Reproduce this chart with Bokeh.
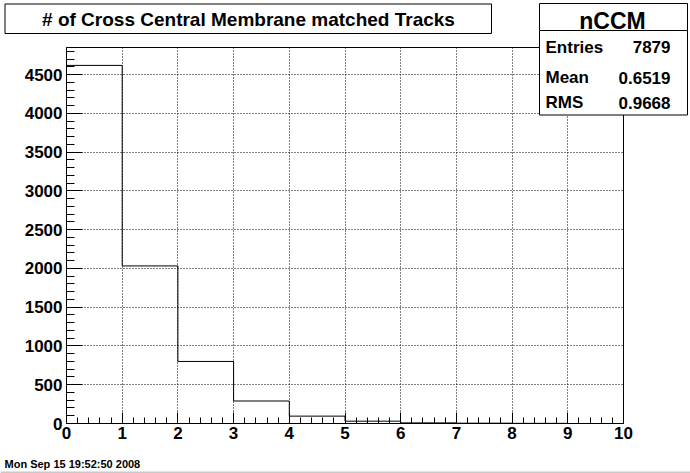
import numpy as np
from bokeh.plotting import figure
from bokeh.models import FixedTicker, Label, Range1d
from bokeh.embed import file_html
from bokeh.resources import INLINE

# ---- data ----
bin_edges = [0, 1, 2, 3, 4, 5, 6, 7, 8, 9, 10]
counts = [4618, 2032, 800, 290, 95, 30, 8, 4, 2, 0]
x_ticks = [0, 1, 2, 3, 4, 5, 6, 7, 8, 9, 10]
y_ticks = [0, 500, 1000, 1500, 2000, 2500, 3000, 3500, 4000, 4500]
title_text = "# of Cross Central Membrane matched Tracks"
stats_name = "nCCM"
stats_labels = ["Entries", "Mean", "RMS"]
stats_values = ["7879", "0.6519", "0.9668"]
timestamp = "Mon Sep 15 19:52:50 2008"

FONT = "Liberation Sans"
W, H = 690, 473

# ---------------- main histogram figure ----------------
ymax = 1.05 * max(counts)
p = figure(width=W, height=H,
           x_range=Range1d(bin_edges[0], bin_edges[-1]),
           y_range=Range1d(0, ymax),
           output_backend="svg", toolbar_location=None,
           min_border_left=66, min_border_right=67,
           min_border_top=47, min_border_bottom=50)
p.title.visible = False
p.background_fill_color = "white"
p.border_fill_color = "white"
p.outline_line_color = "black"
p.outline_line_width = 1

x_minor = list(np.round(np.arange(0, 10.001, 0.2), 3))
y_minor = list(range(0, 4801, 100))
p.xaxis.ticker = FixedTicker(ticks=x_ticks, minor_ticks=x_minor)
p.yaxis.ticker = FixedTicker(ticks=y_ticks, minor_ticks=y_minor)

for ax in (p.xaxis[0], p.yaxis[0]):
    ax.axis_line_color = "black"
    ax.axis_line_width = 1
    ax.major_tick_line_color = "black"
    ax.minor_tick_line_color = "black"
    ax.major_tick_out = 0
    ax.minor_tick_out = 0
    ax.major_label_text_font = FONT
    ax.major_label_text_font_style = "bold"
    ax.major_label_text_font_size = "17px"
    ax.major_label_text_color = "black"

p.xaxis.major_tick_in = 11
p.xaxis.minor_tick_in = 6
p.xaxis.major_label_standoff = 3
p.yaxis.major_tick_in = 16
p.yaxis.minor_tick_in = 8
p.yaxis.major_label_standoff = 4

for g in (p.xgrid[0], p.ygrid[0]):
    g.grid_line_color = "black"
    g.grid_line_dash = "1 2"
    g.grid_line_width = 1
    g.grid_line_alpha = 1

# histogram outline built from bin edges and counts
xs = np.repeat(bin_edges, 2)
ys = np.concatenate([[0], np.repeat(counts, 2), [0]])
p.line(xs, ys, line_color="black", line_width=1)

# ---------------- overlay (title box, stats box, timestamp) ----------------
ov = figure(width=W, height=H, x_range=Range1d(0, W), y_range=Range1d(H, 0),
            output_backend="svg", toolbar_location=None,
            x_axis_location=None, y_axis_location=None, min_border=0)
ov.title.visible = False
ov.grid.visible = False
ov.background_fill_alpha = 0
ov.border_fill_alpha = 0
ov.outline_line_color = None

# boxes: title box, stats header, stats body, bottom canvas edge
ov.quad(left=[4.5, 539, 539], right=[491, 687, 687],
        top=[3.5, 3, 30], bottom=[33, 30, 114.5],
        fill_color="white", line_color="black", line_width=1)
ov.quad(left=[0], right=[W], top=[471], bottom=[472.5],
        fill_color="#c8c8c8", line_color=None)

def lab(x, y, text, size, align):
    ov.add_layout(Label(x=x, y=y, text=text, text_font=FONT,
                        text_font_style="bold", text_font_size=size,
                        text_align=align, text_baseline="middle",
                        text_color="black"))

lab(248, 18.5, title_text, "19px", "center")
lab(612, 20, stats_name, "23px", "center")
row_y = [46.5, 77, 102]
for name, val, yy in zip(stats_labels, stats_values, row_y):
    lab(545, yy, name, "17px", "left")
    lab(670, yy, val, "17px", "right")
lab(4, 463, timestamp, "11px", "left")

box_css = {"position": "absolute", "left": "0px", "top": "0px",
           "width": f"{W}px", "height": f"{H}px"}
p.styles = dict(box_css)
ov.styles = dict(box_css)

open("out.html", "w").write(file_html([p, ov], INLINE))
